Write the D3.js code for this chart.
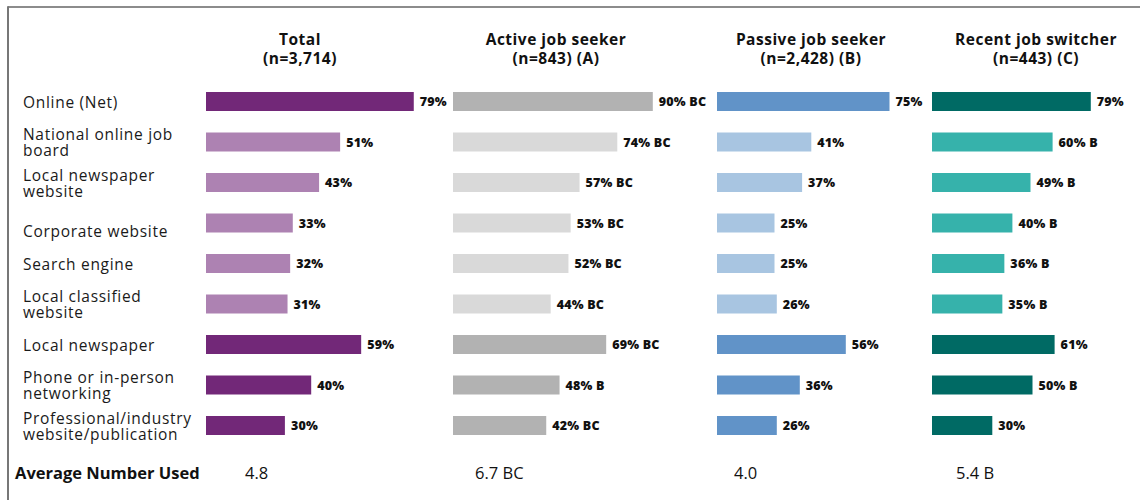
<!DOCTYPE html>
<html>
<head>
<meta charset="utf-8">
<script src="https://cdn.jsdelivr.net/npm/d3@7"></script>
<style>
  html, body { margin: 0; padding: 0; background: #fff; }
  svg { display: block; }
  text { font-family: "Open Sans", "Noto Sans", sans-serif; }
</style>
</head>
<body>
<svg id="chart" width="1140" height="500"></svg>
<script>
// Job search channels used, by respondent group
const categories = [
  "Online (Net)",
  "National online job board",
  "Local newspaper website",
  "Corporate website",
  "Search engine",
  "Local classified website",
  "Local newspaper",
  "Phone or in-person networking",
  "Professional/industry website/publication"
];
const categoryLines = [
  ["Online (Net)"],
  ["National online job", "board"],
  ["Local newspaper", "website"],
  ["", "Corporate website"],
  ["Search engine"],
  ["Local classified", "website"],
  ["Local newspaper"],
  ["Phone or in-person", "networking"],
  ["Professional/industry", "website/publication"]
];
// rows that roll up into "Online (Net)"
const isSubItem = [false, true, true, true, true, true, false, false, false];

const groupTitles = ["Total", "Active job seeker", "Passive job seeker", "Recent job switcher"];
const groupSizes = ["(n=3,714)", "(n=843) (A)", "(n=2,428) (B)", "(n=443) (C)"];

const totalValues   = [79, 51, 43, 33, 32, 31, 59, 40, 30];
const totalSig      = ["", "", "", "", "", "", "", "", ""];
const activeValues  = [90, 74, 57, 53, 52, 44, 69, 48, 42];
const activeSig     = ["BC", "BC", "BC", "BC", "BC", "BC", "BC", "B", "BC"];
const passiveValues = [75, 41, 37, 25, 25, 26, 56, 36, 26];
const passiveSig    = ["", "", "", "", "", "", "", "", ""];
const recentValues  = [79, 60, 49, 40, 36, 35, 61, 50, 30];
const recentSig     = ["", "B", "B", "B", "B", "B", "", "B", ""];

const averageLabel = "Average Number Used";
const averageValues = [4.8, 6.7, 4.0, 5.4];
const averageSig = ["", "BC", "", "B"];

const groupColors = [
  { main: "#722878", sub: "#ad82b2" },
  { main: "#b2b2b2", sub: "#d9d9d9" },
  { main: "#6193c8", sub: "#a8c5e1" },
  { main: "#006a64", sub: "#36b2ab" }
];

// panel layout: bar origin, bar length for 100%, header centre, average value x
const panels = [
  { x0: 206, span: 263, head: 300, avgX: 245 },
  { x0: 453, span: 222, head: 556, avgX: 475 },
  { x0: 717, span: 230, head: 811, avgX: 734 },
  { x0: 932, span: 201, head: 1036, avgX: 956 }
];
const series = [
  { values: totalValues,   sig: totalSig },
  { values: activeValues,  sig: activeSig },
  { values: passiveValues, sig: passiveSig },
  { values: recentValues,  sig: recentSig }
];

const svg = d3.select("#chart");

// frame
svg.append("line").attr("x1", 8).attr("x2", 1140).attr("y1", 7).attr("y2", 7)
  .attr("stroke", "#666").attr("stroke-width", 1.5);
svg.append("line").attr("x1", 8).attr("x2", 8).attr("y1", 6.25).attr("y2", 500)
  .attr("stroke", "#777").attr("stroke-width", 2);

const y = d3.scaleBand().domain(categories).range([81.25, 445.75]).padding(0);
const barH = 19;
const rowMid = c => y(c) + y.bandwidth() / 2;

// category labels
const lineH = 16;
const labels = svg.append("g").selectAll("text")
  .data(categories)
  .join("text")
  .attr("x", 23)
  .attr("font-size", 15.5)
  .attr("letter-spacing", 0.7)
  .attr("fill", "#1a1a1a");
labels.each(function (c, i) {
  const lines = categoryLines[i];
  const top = rowMid(c) + 1 - (lines.length - 1) * lineH / 2;
  d3.select(this).selectAll("tspan")
    .data(lines)
    .join("tspan")
    .attr("x", 23)
    .attr("y", (d, k) => top + k * lineH)
    .attr("dy", "0.35em")
    .text(d => d);
});

panels.forEach((p, gi) => {
  const x = d3.scaleLinear().domain([0, 100]).range([p.x0, p.x0 + p.span]);
  const g = svg.append("g");
  const s = series[gi];

  // header
  const head = g.append("text")
    .attr("text-anchor", "middle")
    .attr("font-size", 15.5)
    .attr("font-weight", 700)
    .attr("letter-spacing", 0.5)
    .attr("fill", "#111");
  head.append("tspan").attr("x", p.head).attr("y", 45).text(groupTitles[gi]);
  head.append("tspan").attr("x", p.head).attr("y", 64).text(groupSizes[gi]);

  // bars
  g.selectAll("rect")
    .data(categories)
    .join("rect")
    .attr("x", x(0))
    .attr("y", c => rowMid(c) - barH / 2)
    .attr("width", (c, i) => x(s.values[i]) - x(0))
    .attr("height", barH)
    .attr("fill", (c, i) => isSubItem[i] ? groupColors[gi].sub : groupColors[gi].main);

  // value labels
  g.selectAll("text.val")
    .data(categories)
    .join("text")
    .attr("class", "val")
    .attr("x", (c, i) => x(s.values[i]) + 6)
    .attr("y", c => rowMid(c) + 0.5)
    .attr("dy", "0.35em")
    .attr("font-size", 12.5)
    .attr("font-weight", 800)
    .attr("letter-spacing", 0.2)
    .attr("fill", "#111")
    .text((c, i) => s.values[i] + "%" + (s.sig[i] ? " " + s.sig[i] : ""));

  // average row
  g.append("text")
    .attr("x", p.avgX)
    .attr("y", 479)
    .attr("font-size", 16.5)
    .attr("fill", "#111")
    .text(d3.format(".1f")(averageValues[gi]) + (averageSig[gi] ? " " + averageSig[gi] : ""));
});

svg.append("text")
  .attr("x", 15)
  .attr("y", 479)
  .attr("font-size", 16.5)
  .attr("font-weight", 700)
  .attr("fill", "#111")
  .text(averageLabel);
</script>
</body>
</html>
